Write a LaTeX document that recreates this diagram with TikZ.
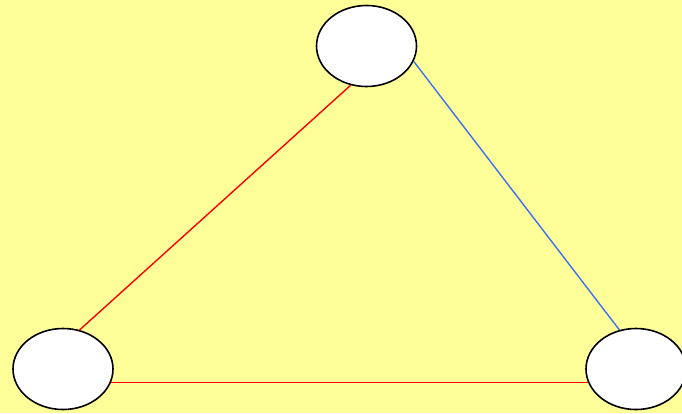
\documentclass[tikz,border=0pt]{standalone}
\usetikzlibrary{shapes.geometric}
\definecolor{bgyellow}{HTML}{FFFF99}
\definecolor{edgeblue}{RGB}{64,112,240}
\begin{document}
\begin{tikzpicture}[x=1pt,y=-1pt,
  vert/.style={ellipse,draw=black,fill=white,line width=1.6pt,minimum width=100pt,minimum height=81pt,inner sep=0pt},
  rededge/.style={draw=red,line width=1.4pt},
  blueedge/.style={draw=edgeblue,line width=1.4pt}]
\fill[bgyellow] (0,0) rectangle (682,413);
\useasboundingbox (0,0) rectangle (682,413);
\node[vert] (top) at (366.5,46) {};
\node[vert] (bl) at (63,369) {};
\node[vert] (br) at (636,369) {};
\draw[rededge] (top.248) -- (bl.67.5);
\draw[blueedge] (top.342) -- (br.113);
\draw[rededge] (bl.344) -- (br.196);
\end{tikzpicture}
\end{document}
